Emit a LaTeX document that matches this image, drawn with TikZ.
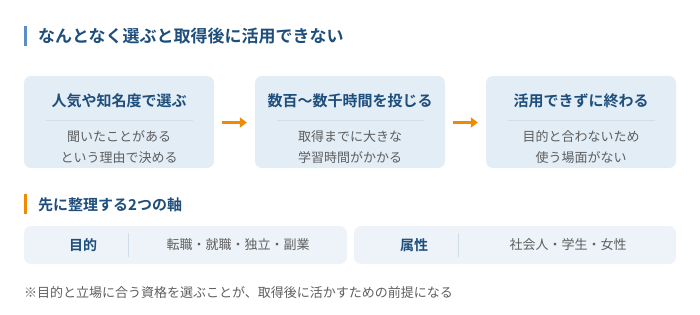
\documentclass[tikz,border=0pt]{standalone}
\usepackage{fontspec}
\setmainfont{Noto Sans CJK JP}[BoldFont=* Bold]
\usetikzlibrary{arrows.meta}

\definecolor{headblue}{HTML}{1E4E7C}
\definecolor{barblue}{HTML}{5A8FC3}
\definecolor{barorange}{HTML}{F08A00}
\definecolor{boxfill}{HTML}{E3EDF6}
\definecolor{axisfill}{HTML}{EDF3F9}
\definecolor{rulegray}{HTML}{D0DEEA}
\definecolor{textgray}{HTML}{5E5E5E}

\begin{document}
\begin{tikzpicture}[
    x=1pt, y=-1pt,
    stepbox/.style={rectangle, rounded corners=7pt, fill=boxfill, minimum width=190pt, minimum height=92pt, inner sep=0pt},
    steptitle/.style={font=\fontsize{15}{18}\selectfont\bfseries, text=headblue, inner sep=0pt},
    stepbody/.style={font=\fontsize{13}{21}\selectfont, text=textgray, align=center, inner sep=0pt},
    axisbox/.style={rectangle, rounded corners=7pt, fill=axisfill, minimum height=38pt, inner sep=0pt},
    axislabel/.style={font=\fontsize{14}{16}\selectfont\bfseries, text=headblue, inner sep=0pt},
    axisvalue/.style={font=\fontsize{13}{16}\selectfont, text=textgray, inner sep=0pt},
    flow/.style={-{Triangle[length=7pt,width=10pt]}, line width=2.6pt, draw=barorange, shorten <=8pt, shorten >=8pt}
]
\useasboundingbox (0,0) rectangle (700,314);

% Heading
\fill[barblue] (24,26) rectangle (27,46);
\node[anchor=west, font=\fontsize{17}{20}\selectfont\bfseries, text=headblue, inner sep=0pt] (head) at (38,36) {なんとなく選ぶと取得後に活用できない};

% Three steps
\node[stepbox] (s1) at (119,122) {};
\node[stepbox] (s2) at (350,122) {};
\node[stepbox] (s3) at (581,122) {};

\node[steptitle] (t1) at (119,101) {人気や知名度で選ぶ};
\node[steptitle] (t2) at (350,101) {数百〜数千時間を投じる};
\node[steptitle] (t3) at (581,101) {活用できずに終わる};

\draw[rulegray] (46,120) -- (193,120);
\draw[rulegray] (277,120) -- (424,120);
\draw[rulegray] (508,120) -- (655,120);

\node[stepbody] (b1) at (119,147.5) {聞いたことがある\\という理由で決める};
\node[stepbody] (b2) at (350,147.5) {取得までに大きな\\学習時間がかかる};
\node[stepbody] (b3) at (581,147.5) {目的と合わないため\\使う場面がない};

% Arrows between steps
\draw[flow] (s1.east |- 0,122.5) -- (s2.west |- 0,122.5);
\draw[flow] (s2.east |- 0,122.5) -- (s3.west |- 0,122.5);

% Second heading
\fill[barorange] (24,194) rectangle (27,214);
\node[anchor=west, font=\fontsize{15}{18}\selectfont\bfseries, text=headblue, inner sep=0pt] (sub) at (38,204.5) {先に整理する2つの軸};

% Two axes
\node[axisbox, minimum width=323pt] (a1) at (185.5,245) {};
\node[axisbox, minimum width=322pt] (a2) at (515,245) {};

\draw[rulegray] (128,233) -- (128,257);
\draw[rulegray] (458,233) -- (458,257);

\node[axislabel] (l1) at (83,245) {目的};
\node[axisvalue] (v1) at (238,245) {転職・就職・独立・副業};
\node[axislabel] (l2) at (414,245) {属性};
\node[axisvalue] (v2) at (568,245) {社会人・学生・女性};

% Note
\node[anchor=west, font=\fontsize{13}{16}\selectfont, text=textgray, inner sep=0pt] (note) at (24,293) {※目的と立場に合う資格を選ぶことが、取得後に活かすための前提になる};

\end{tikzpicture}
\end{document}
